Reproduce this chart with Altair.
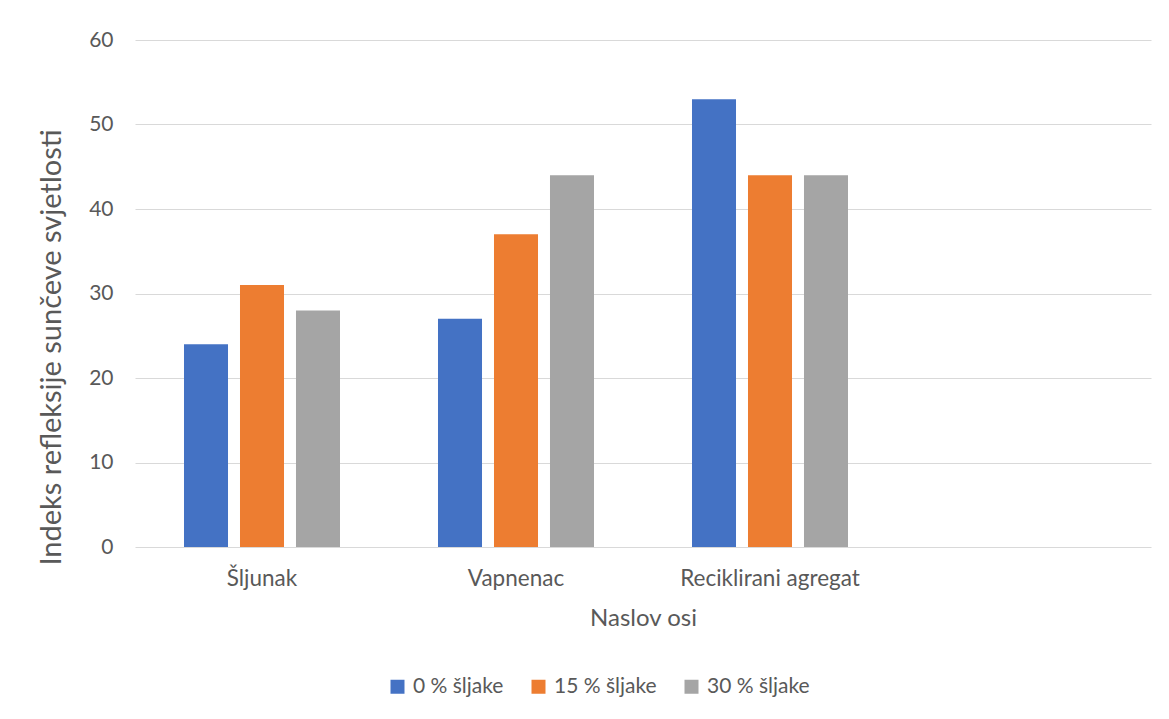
import altair as alt
import pandas as pd

categories = ["Šljunak", "Vapnenac", "Reciklirani agregat"]
axis_domain = ["Šljunak", "Vapnenac", "Reciklirani agregat", " "]
series = ["0 % šljake", "15 % šljake", "30 % šljake"]
values = {
    "0 % šljake": [24, 27, 53],
    "15 % šljake": [31, 37, 44],
    "30 % šljake": [28, 44, 44],
}
colors = ["#4472C4", "#ED7D31", "#A5A5A5"]
y_ticks = [0, 10, 20, 30, 40, 50, 60]

rows = []
for s in series:
    for c, v in zip(categories, values[s]):
        rows.append({"cat": c, "series": s, "value": v})
df = pd.DataFrame(rows)

FONT = "Lato"
TXT = "#595959"

chart = alt.Chart(df).mark_bar().encode(
    x=alt.X(
        "cat:N",
        scale=alt.Scale(domain=axis_domain, paddingInner=0, paddingOuter=0),
        axis=alt.Axis(
            title="Naslov osi",
            labelAngle=0,
            ticks=False,
            tickSize=0,
            domain=False,
            labelPadding=20,
            labelFont=FONT,
            labelFontSize=22.5,
            labelColor=TXT,
            labelFontWeight="normal",
            titleFont=FONT,
            titleFontSize=24,
            titleFontWeight="normal",
            titleColor=TXT,
            titleBaseline="alphabetic",
            titleY=78,
        ),
    ),
    xOffset=alt.XOffset(
        "series:N",
        scale=alt.Scale(domain=series, paddingInner=0.214, paddingOuter=0.875),
    ),
    y=alt.Y(
        "value:Q",
        scale=alt.Scale(domain=[0, 60], nice=False),
        axis=alt.Axis(
            title="Indeks refleksije sunčeve svjetlosti",
            values=y_ticks,
            ticks=False,
            tickSize=0,
            domain=False,
            grid=True,
            gridColor="#D9D9D9",
            gridWidth=1,
            labelPadding=22,
            labelFont=FONT,
            labelFontSize=21,
            labelColor=TXT,
            titleFont=FONT,
            titleFontSize=29,
            titleFontWeight="normal",
            titleColor=TXT,
            titleAngle=-90,
            titleAlign="center",
            titleBaseline="alphabetic",
            titleX=-75,
            titleY=307,
        ),
    ),
    color=alt.Color(
        "series:N",
        scale=alt.Scale(domain=series, range=colors),
        legend=alt.Legend(
            title=None,
            orient="none",
            direction="horizontal",
            legendX=252,
            legendY=636,
            symbolType="square",
            symbolSize=196,
            symbolStrokeWidth=0,
            labelFont=FONT,
            labelFontSize=21,
            labelColor=TXT,
            labelOffset=5,
            columnPadding=24,
            padding=0,
        ),
    ),
).properties(
    width=1016,
    height=507,
    autosize=alt.AutoSizeParams(type="none"),
    padding={"left": 127, "top": 32, "right": 10, "bottom": 164},
).configure_view(stroke=None)

chart.save("out.html", embed_options={"renderer": "svg", "actions": False})
